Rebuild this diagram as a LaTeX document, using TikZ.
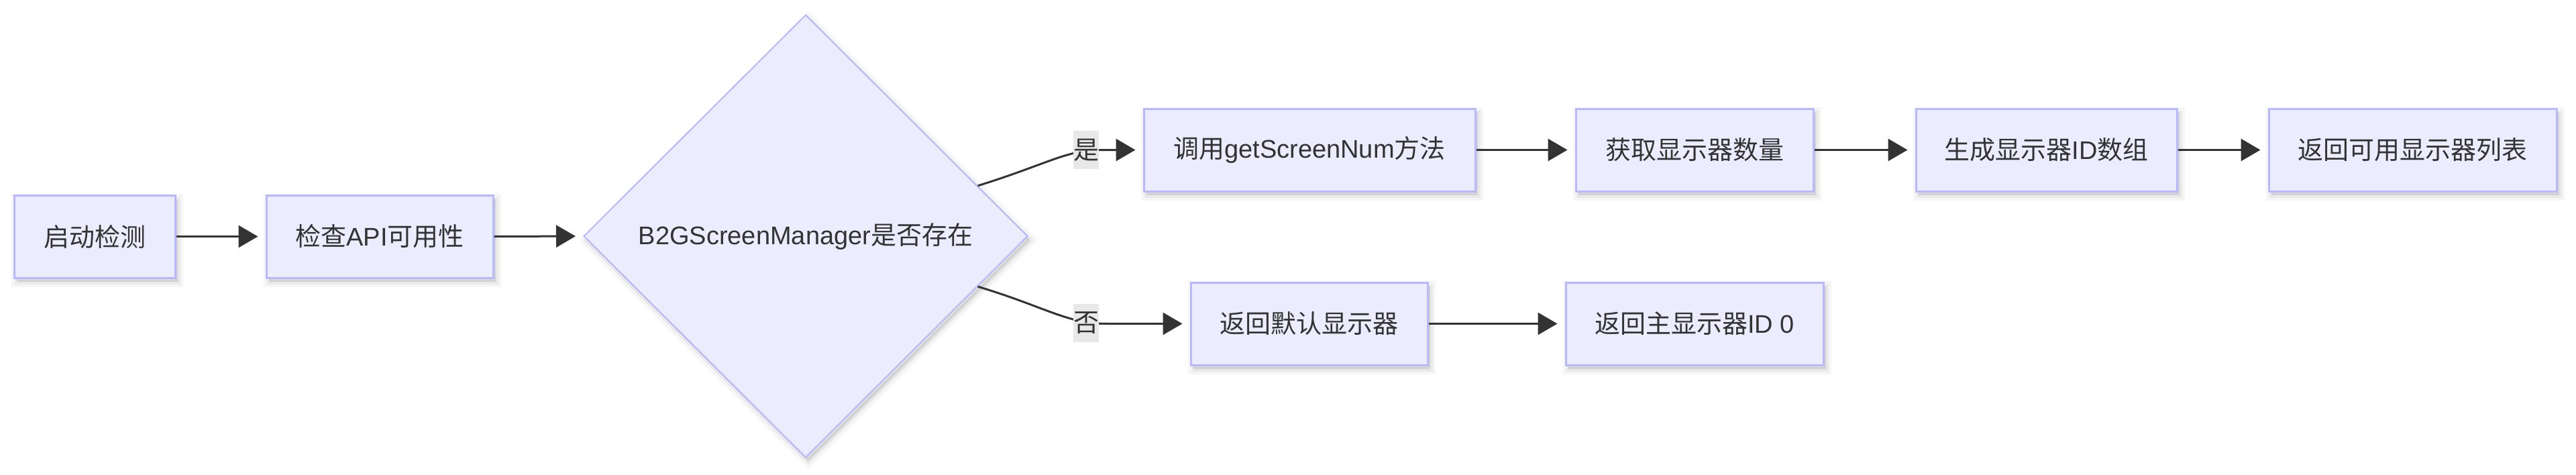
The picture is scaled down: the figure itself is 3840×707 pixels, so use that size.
\documentclass[tikz,border=0pt]{standalone}
\usepackage{fontspec}
\setmainfont{Liberation Sans}
\newfontfamily\cjk{Noto Sans CJK SC}
\usetikzlibrary{shapes.geometric,arrows.meta,calc}
\definecolor{boxfill}{HTML}{ECECFF}
\definecolor{boxline}{HTML}{B8B8FF}
\definecolor{ink}{HTML}{333333}
\definecolor{lblbg}{HTML}{E8E8E8}
\newcommand{\z}[1]{{\cjk #1}}
\tikzset{
  softshadow/.style={
    preaction={draw=black, draw opacity=0.035, line width=16pt, fill=black, fill opacity=0.10,
      transform canvas={shift={(4pt,-6pt)}}},
    preaction={draw=black, draw opacity=0.05, line width=7pt,
      transform canvas={shift={(4pt,-6pt)}}}
  },
  procbox/.style={rectangle, softshadow, fill=boxfill, draw=boxline, line width=3pt,
    minimum height=123pt, inner sep=0pt, text=ink, font=\fontsize{38pt}{44pt}\selectfont},
  decbox/.style={diamond, softshadow, fill=boxfill, draw=boxline, line width=2pt,
    minimum width=662pt, minimum height=660pt, inner sep=0pt, text=ink,
    font=\fontsize{38pt}{44pt}\selectfont},
  conn/.style={draw=ink, line width=3pt, shorten >=11pt,
    -{Triangle[length=29pt,width=33pt]}},
  edgelbl/.style={fill=lblbg, text=ink, inner sep=0pt, minimum width=38pt, minimum height=57pt,
    font=\fontsize{38pt}{44pt}\selectfont}
}
\begin{document}
\begin{tikzpicture}[x=1pt,y=-1pt]
\useasboundingbox (0,0) rectangle (3840,707);
\node[procbox, minimum width=240pt] (b1) at (141,352.5) {\z{启动检测}};
\node[procbox, minimum width=338pt] (b2) at (566,352.5) {\z{检查}API\z{可用性}};
\node[decbox] (d) at (1201,352) {B2GScreenManager\z{是否存在}};
\node[procbox, minimum width=494pt] (b3) at (1952,223.5) {\z{调用}getScreenNum\z{方法}};
\node[procbox, minimum width=354pt] (b4) at (2526,223.5) {\z{获取显示器数量}};
\node[procbox, minimum width=389pt] (b5) at (3050.5,223.5) {\z{生成显示器}ID\z{数组}};
\node[procbox, minimum width=429pt] (b6) at (3596.5,223.5) {\z{返回可用显示器列表}};
\node[procbox, minimum width=353pt] (b7) at (1951.5,482.5) {\z{返回默认显示器}};
\node[procbox, minimum width=384pt] (b8) at (2526,482.5) {\z{返回主显示器}ID 0};

\coordinate (s1) at ($(d.north)!0.773!(d.east)$);
\coordinate (s2) at ($(d.south)!0.773!(d.east)$);

\draw[conn] (b1.east) -- (b2.west);
\draw[conn] (b2.east) -- (d.west);
\draw[conn] (s1) .. controls (1560,245) and (1590,223.5) .. (1640,223.5) -- (b3.west);
\draw[conn] (s2) .. controls (1560,458) and (1590,482.5) .. (1650,482.5) -- (b7.west);
\draw[conn] (b3.east) -- (b4.west);
\draw[conn] (b4.east) -- (b5.west);
\draw[conn] (b5.east) -- (b6.west);
\draw[conn] (b7.east) -- (b8.west);

\node[edgelbl] (ly) at (1619,223.5) {\z{是}};
\node[edgelbl] (ln) at (1619,481) {\z{否}};
\end{tikzpicture}
\end{document}
